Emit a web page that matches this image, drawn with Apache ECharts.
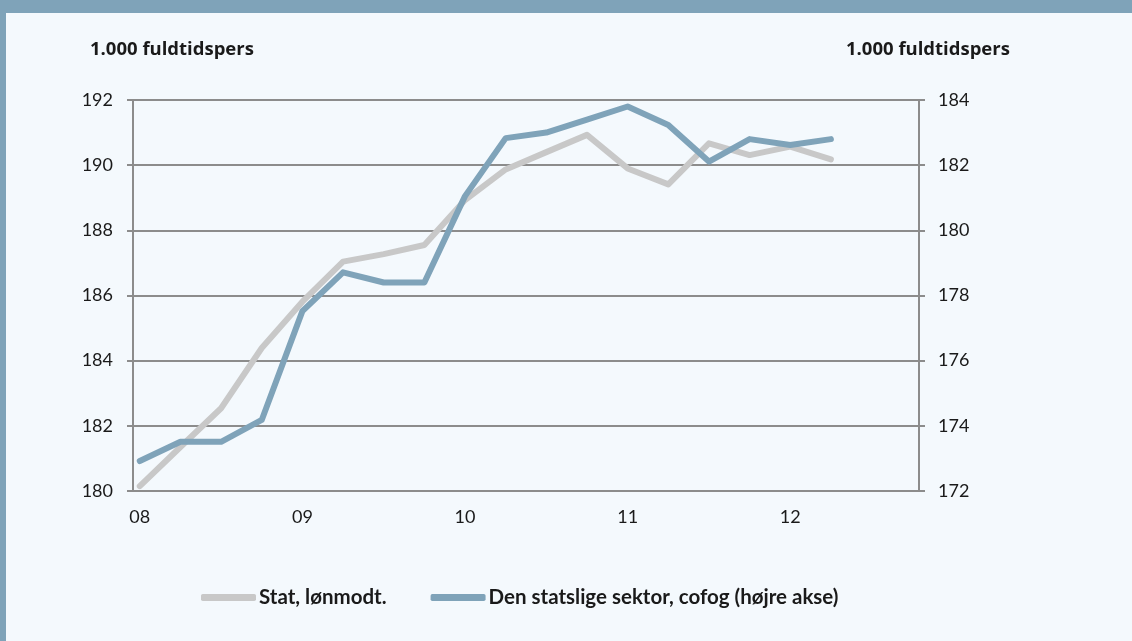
<!DOCTYPE html>
<html>
<head>
<meta charset="utf-8">
<script src="https://cdn.jsdelivr.net/npm/echarts@6/dist/echarts.min.js"></script>
<style>
  html, body { margin: 0; padding: 0; background: #f4f9fd; }
  #c1 { width: 1132px; height: 641px; }
</style>
</head>
<body>
<div id="c1"></div>
<script>
// kvartalstal, første måned i hvert kvartal (jan 08 .. okt 12)
var years = ["08", "09", "10", "11", "12"];
var monthsTotal = 58;
var statLoenmodt = [
  180.15, 181.35, 182.54, 184.39, 185.81, 187.04, 187.27, 187.55, 188.93,
  189.87, 190.4, 190.93, 189.9, 189.41, 190.67, 190.31, 190.57, 190.18,
];
var statsligSektor = [
  172.92, 173.51, 173.51, 174.18, 177.52, 178.71, 178.4, 178.4, 181.05,
  182.83, 183.0, 183.4, 183.8, 183.23, 182.11, 182.8, 182.62, 182.8,
];
var legendNames = ["Stat, lønmodt.", "Den statslige sektor, cofog (højre akse)"];
var axisName = "1.000 fuldtidspers";

var months = [];
for (var i = 0; i < monthsTotal; i++) {
  months.push(years[Math.floor(i / 12)] + "-" + (i % 12));
}
function toMonthly(q) {
  var out = [];
  for (var i = 0; i < monthsTotal; i++) {
    out.push(i % 3 === 0 && q[i / 3] !== undefined ? q[i / 3] : null);
  }
  return out;
}

var gridColor = "#8c8c8c";
var txt = "#1a1a1a";
var font = "Lato";

var chartDom = document.getElementById("c1");
var myChart = echarts.init(chartDom);
var option = {
  backgroundColor: "#f4f9fd",
  animation: false,
  graphic: [
    { type: "rect", shape: { x: 0, y: 0, width: 1132, height: 13 }, style: { fill: "#7fa3b9" } },
    { type: "rect", shape: { x: 0, y: 0, width: 6, height: 641 }, style: { fill: "#7fa3b9" } },
    {
      type: "text", left: 90, top: 40,
      style: { text: axisName, fill: txt, font: "bold 18.5px 'Open Sans'" },
    },
    {
      type: "text", left: 846, top: 40,
      style: { text: axisName, fill: txt, font: "bold 18.5px 'Open Sans'" },
    },
  ],
  legend: {
    left: 201,
    top: 587,
    padding: 0,
    icon: "roundRect",
    itemWidth: 55,
    itemHeight: 7,
    itemGap: 44,
    data: legendNames,
    textStyle: { color: txt, fontFamily: font, fontWeight: "bold", fontSize: 20.5, padding: [0, 0, 0, -2] },
  },
  grid: { left: 133, right: 213, top: 100, bottom: 150 },
  xAxis: {
    type: "category",
    data: months,
    boundaryGap: true,
    axisLine: { lineStyle: { color: gridColor, width: 2 } },
    axisTick: { interval: 11, length: 6, lineStyle: { color: gridColor, width: 2 } },
    axisLabel: {
      interval: 11,
      margin: 17,
      color: txt,
      fontFamily: font,
      fontSize: 18,
      formatter: function (v) { return v.split("-")[0]; },
    },
  },
  yAxis: [
    {
      type: "value",
      min: 180,
      max: 192,
      interval: 2,
      axisLine: { show: true, lineStyle: { color: gridColor, width: 2 } },
      axisTick: { show: true, length: 6, lineStyle: { color: gridColor, width: 2 } },
      splitLine: { lineStyle: { color: gridColor, width: 2 } },
      axisLabel: { margin: 20, color: txt, fontFamily: font, fontSize: 18 },
    },
    {
      type: "value",
      min: 172,
      max: 184,
      interval: 2,
      position: "right",
      axisLine: { show: true, lineStyle: { color: gridColor, width: 2 } },
      axisTick: { show: true, length: 6, lineStyle: { color: gridColor, width: 2 } },
      splitLine: { show: false },
      axisLabel: { margin: 19, color: txt, fontFamily: font, fontSize: 18 },
    },
  ],
  series: [
    {
      name: legendNames[0],
      type: "line",
      data: toMonthly(statLoenmodt),
      connectNulls: true,
      symbol: "none",
      itemStyle: { color: "#c8c8c8" },
      lineStyle: { color: "#c8c8c8", width: 6, cap: "round", join: "round" },
    },
    {
      name: legendNames[1],
      type: "line",
      yAxisIndex: 1,
      data: toMonthly(statsligSektor),
      connectNulls: true,
      symbol: "none",
      itemStyle: { color: "#7fa3b9" },
      lineStyle: { color: "#7fa3b9", width: 6, cap: "round", join: "round" },
    },
  ],
};
myChart.setOption(option);
</script>
</body>
</html>
